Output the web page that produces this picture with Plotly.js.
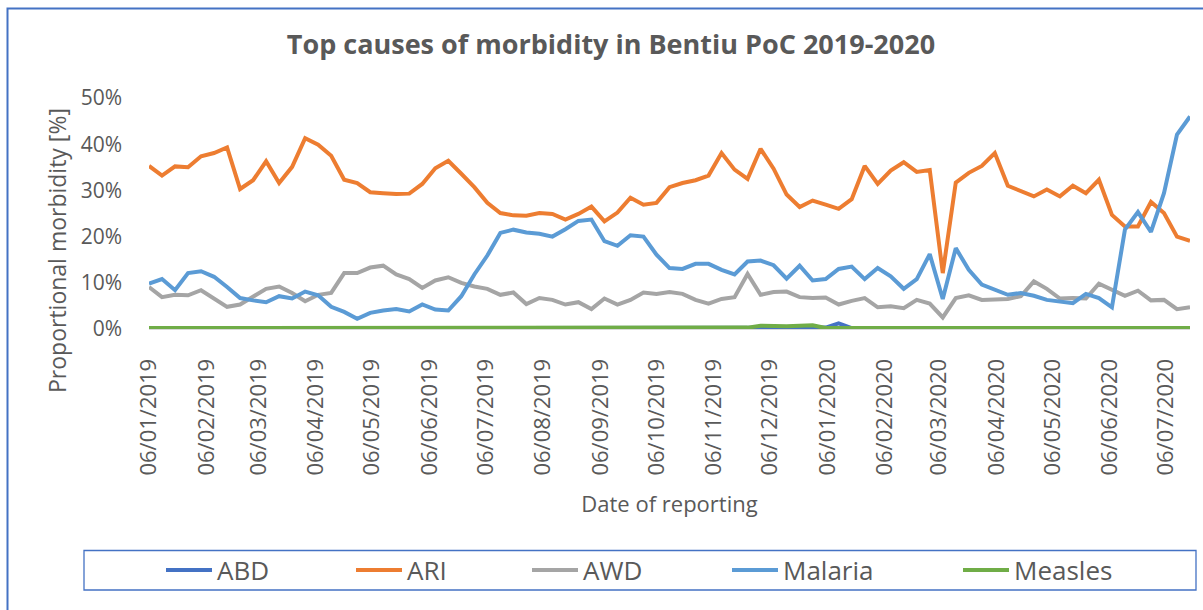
<!DOCTYPE html>
<html><head><meta charset="utf-8">
<script src="https://cdn.plot.ly/plotly-3.0.1.min.js"></script>
<style>html,body{margin:0;padding:0;background:#fff;overflow:hidden}#chart{width:1203px;height:610px}</style>
</head><body><div id="chart"></div>
<script>
// ---- data (percent) ----
const dates = [
 '2019-01-06','2019-01-13','2019-01-20','2019-01-27','2019-02-03','2019-02-10','2019-02-17','2019-02-24',
 '2019-03-03','2019-03-10','2019-03-17','2019-03-24','2019-03-31','2019-04-07','2019-04-14','2019-04-21',
 '2019-04-28','2019-05-05','2019-05-12','2019-05-19','2019-05-26','2019-06-02','2019-06-09','2019-06-16',
 '2019-06-23','2019-06-30','2019-07-07','2019-07-14','2019-07-21','2019-07-28','2019-08-04','2019-08-11',
 '2019-08-18','2019-08-25','2019-09-01','2019-09-08','2019-09-15','2019-09-22','2019-09-29','2019-10-06',
 '2019-10-13','2019-10-20','2019-10-27','2019-11-03','2019-11-10','2019-11-17','2019-11-24','2019-12-01',
 '2019-12-08','2019-12-15','2019-12-22','2019-12-29','2020-01-05','2020-01-12','2020-01-19','2020-01-26',
 '2020-02-02','2020-02-09','2020-02-16','2020-02-23','2020-03-01','2020-03-08','2020-03-15','2020-03-22',
 '2020-03-29','2020-04-05','2020-04-12','2020-04-19','2020-04-26','2020-05-03','2020-05-10','2020-05-17',
 '2020-05-24','2020-05-31','2020-06-07','2020-06-14','2020-06-21','2020-06-28','2020-07-05','2020-07-12',
 '2020-07-19'];
const ABD = [0.1,0.1,0.1,0.1,0.1,0.1,0.1,0.1,0.1,0.1,0.1,0.1,0.1,0.1,0.1,0.1,0.1,0.1,0.1,0.1,
 0.1,0.1,0.1,0.1,0.1,0.1,0.1,0.1,0.1,0.1,0.1,0.1,0.1,0.1,0.1,0.1,0.1,0.1,0.1,0.1,
 0.1,0.1,0.1,0.1,0.1,0.1,0.1,0.1,0.1,0.1,0.1,0.2,0.3,1.2,0.2,0.1,0.1,0.1,0.1,0.1,
 0.1,0.1,0.1,0.1,0.1,0.1,0.1,0.1,0.1,0.1,0.1,0.1,0.1,0.1,0.3,0.1,0.1,0.2,0.1,0.1,0.1];
const ARI = [35.3,33.2,35.2,35.0,37.4,38.1,39.3,30.3,32.2,36.3,31.6,35.1,41.3,39.9,37.5,32.3,31.6,29.6,29.4,29.2,
 29.3,31.4,34.8,36.4,33.6,30.7,27.3,25.1,24.6,24.5,25.1,24.9,23.7,24.9,26.5,23.3,25.2,28.4,26.9,27.3,
 30.7,31.6,32.2,33.2,38.1,34.5,32.5,39.0,34.7,29.1,26.4,27.8,26.9,26.0,28.1,35.3,31.4,34.3,36.1,34.0,
 34.4,12.1,31.7,33.8,35.3,38.1,31.0,29.8,28.7,30.2,28.7,31.0,29.4,32.3,24.7,22.2,22.2,27.5,25.1,20.0,19.1];
const AWD = [9.1,6.9,7.4,7.3,8.4,6.5,4.8,5.3,7.1,8.7,9.2,7.8,6.0,7.4,7.8,12.1,12.1,13.3,13.7,11.8,
 10.8,8.9,10.5,11.2,10.0,9.2,8.7,7.4,7.9,5.4,6.7,6.3,5.3,5.8,4.3,6.6,5.3,6.3,7.9,7.6,
 8.0,7.6,6.3,5.5,6.5,6.9,11.9,7.4,8.0,8.1,6.9,6.7,6.8,5.3,6.1,6.7,4.7,4.9,4.5,6.3,
 5.5,2.5,6.7,7.3,6.3,6.3,6.5,7.1,10.3,8.7,6.6,6.7,6.6,9.8,8.5,7.2,8.3,6.2,6.3,4.3,4.7];
const Malaria = [9.8,10.8,8.4,12.1,12.5,11.3,9.1,6.7,6.2,5.8,7.1,6.6,8.1,7.3,4.8,3.7,2.2,3.5,4.0,4.3,
 3.8,5.3,4.2,4.0,7.1,11.8,15.9,20.8,21.5,20.9,20.6,20.0,21.6,23.4,23.7,19.0,18.0,20.3,20.0,16.1,
 13.2,13.0,14.1,14.1,12.8,11.8,14.6,14.8,13.8,10.9,13.7,10.5,10.8,13.0,13.5,10.8,13.2,11.4,8.7,10.8,
 16.2,6.5,17.5,12.8,9.6,8.4,7.4,7.8,7.2,6.3,6.0,5.6,7.6,6.7,4.7,21.5,25.3,21.0,29.4,42.1,46.0];
const Measles = [0.2,0.2,0.2,0.2,0.2,0.2,0.2,0.2,0.2,0.2,0.2,0.2,0.2,0.2,0.2,0.2,0.2,0.2,0.2,0.2,
 0.2,0.2,0.2,0.2,0.2,0.2,0.3,0.3,0.3,0.3,0.3,0.3,0.3,0.3,0.3,0.3,0.3,0.2,0.2,0.2,
 0.2,0.2,0.2,0.2,0.2,0.2,0.3,0.7,0.6,0.6,0.7,0.8,0.2,0.2,0.2,0.2,0.2,0.2,0.2,0.2,
 0.2,0.2,0.2,0.2,0.2,0.2,0.4,0.4,0.2,0.2,0.2,0.2,0.2,0.2,0.2,0.2,0.2,0.2,0.2,0.2,0.2];
const seriesNames = ['ABD','ARI','AWD','Malaria','Measles'];
const seriesColors = ['#4472C4','#ED7D31','#A5A5A5','#5B9BD5','#70AD47'];
const tickVals = ['2019-01-06','2019-02-06','2019-03-06','2019-04-06','2019-05-06','2019-06-06','2019-07-06',
 '2019-08-06','2019-09-06','2019-10-06','2019-11-06','2019-12-06','2020-01-06','2020-02-06','2020-03-06',
 '2020-04-06','2020-05-06','2020-06-06','2020-07-06'];
const tickText = ['06/01/2019','06/02/2019','06/03/2019','06/04/2019','06/05/2019','06/06/2019','06/07/2019',
 '06/08/2019','06/09/2019','06/10/2019','06/11/2019','06/12/2019','06/01/2020','06/02/2020','06/03/2020',
 '06/04/2020','06/05/2020','06/06/2020','06/07/2020'];

// ---- layout geometry (px) ----
const W=1203, H=610, L=149, R=1190, T=98, B=329;
const pw=R-L, ph=B-T;
const px2x = p => (p-L)/pw;
const px2y = p => (B-p)/ph;
const TXT = '#595959';
const FONT = 'Open Sans, Noto Sans, sans-serif';

const values = [ABD, ARI, AWD, Malaria, Measles];
const legendIds = ['legend','legend2','legend3','legend4','legend5'];
const legendStarts = [166, 356, 532, 732, 963];

const traces = seriesNames.map((n,k)=>({
  type:'scatter', mode:'lines', name:n, x:dates, y:values[k],
  line:{color:seriesColors[k], width:4},
  legend: legendIds[k], hoverinfo:'x+y+name'
}));

const layout = {
  width:W, height:H,
  margin:{l:L, r:W-R, t:T, b:H-B, pad:0},
  paper_bgcolor:'#fff', plot_bgcolor:'#fff',
  font:{family:FONT, color:TXT},
  title:{text:'Top causes of morbidity in Bentiu PoC 2019-2020', font:{family:FONT, size:27, color:TXT, weight:'bold'},
         x:611/W, xanchor:'center', y:1-45/H, yanchor:'middle', xref:'container', yref:'container'},
  xaxis:{type:'date', range:[dates[0], dates[dates.length-1]], tickmode:'array', tickvals:tickVals, ticktext:tickText,
         tickangle:-90, tickfont:{size:22, color:TXT, family:FONT}, showgrid:false, zeroline:false,
         showline:true, linecolor:'#D9D9D9', linewidth:1, ticks:'', ticklabelstandoff:20,
         title:{text:'Date of reporting', font:{size:22, color:TXT, family:FONT}, standoff:22}, automargin:false},
  yaxis:{range:[0,50], dtick:10, ticksuffix:'%', tickfont:{size:21, color:TXT, family:FONT}, showgrid:false,
         zeroline:false, showline:false, ticks:'', ticklabelstandoff:26, automargin:false},
  showlegend:true,
  annotations:[{text:'Proportional morbidity [%]', textangle:-90, xref:'paper', yref:'paper',
      x:px2x(57), y:px2y(251), xanchor:'center', yanchor:'middle', showarrow:false,
      font:{size:23, color:TXT, family:FONT}}],
  shapes:[
    {type:'rect', xref:'paper', yref:'paper', x0:px2x(7.5), x1:px2x(1230), y0:px2y(8.5), y1:px2y(640),
     line:{color:'#4472C4', width:2}, fillcolor:'rgba(0,0,0,0)'},
    {type:'rect', xref:'paper', yref:'paper', x0:px2x(84), x1:px2x(1196), y0:px2y(550.5), y1:px2y(590),
     line:{color:'#4472C4', width:1.3}, fillcolor:'rgba(0,0,0,0)'}
  ]
};
legendIds.forEach((id,k)=>{
  layout[id] = {x:px2x(legendStarts[k]-5), y:px2y(570), xanchor:'left', yanchor:'middle', orientation:'h',
    bgcolor:'rgba(0,0,0,0)', borderwidth:0, itemwidth:46, font:{size:26, color:TXT, family:FONT}};
});

Plotly.newPlot('chart', traces, layout, {staticPlot:true, displayModeBar:false});
</script></body></html>
